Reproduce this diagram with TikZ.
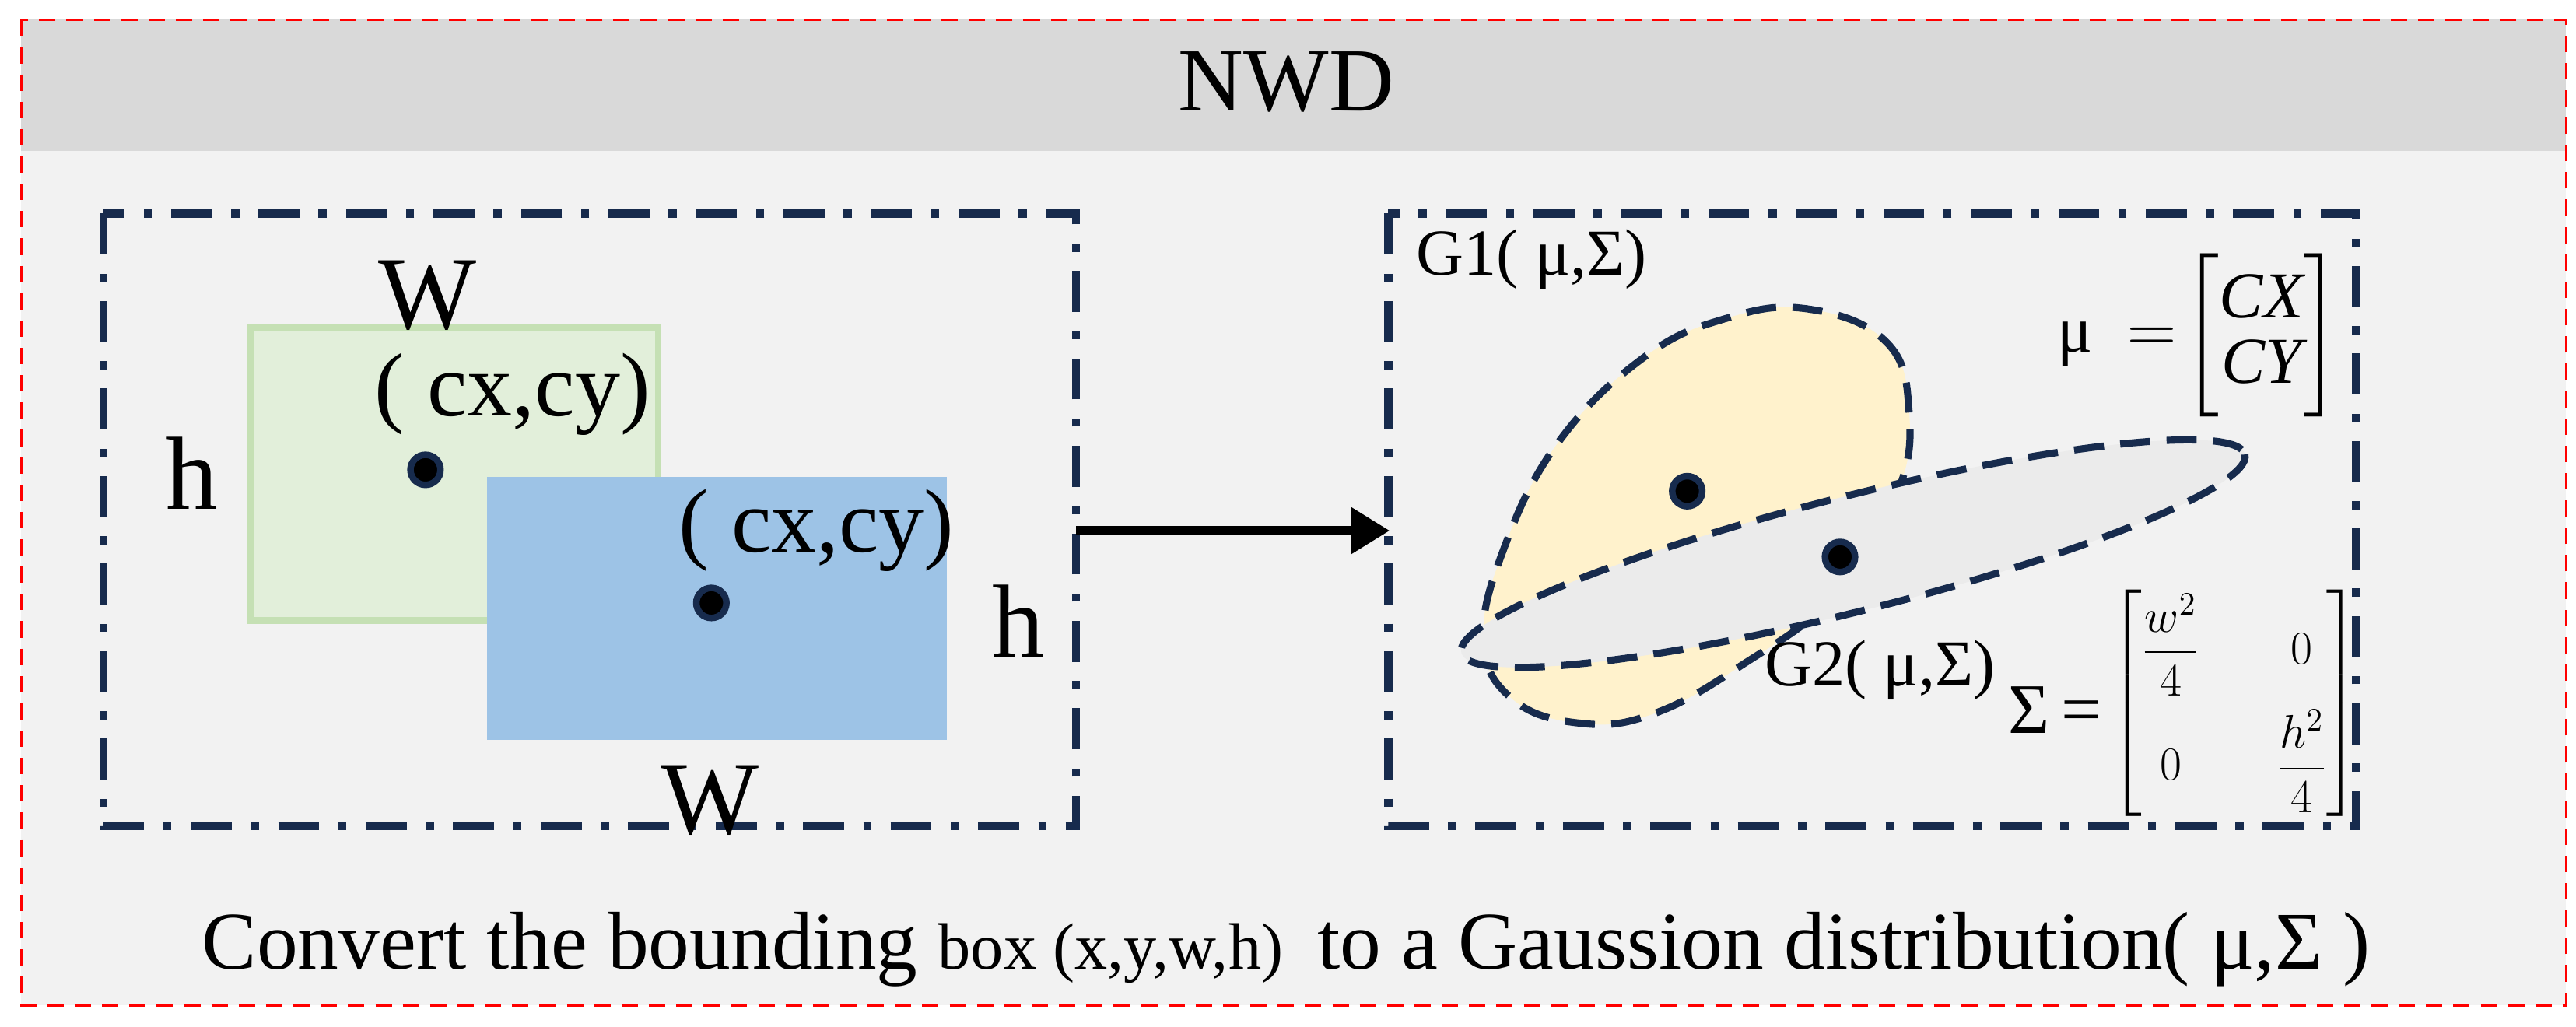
\documentclass[tikz,border=0pt]{standalone}
\usepackage{amsmath}
\usepackage{fontspec}
\setmainfont{Liberation Serif}
\usetikzlibrary{arrows.meta}
\definecolor{navy}{HTML}{172B4D}
\definecolor{hdr}{HTML}{D9D9D9}
\definecolor{pan}{HTML}{F2F2F2}
\definecolor{gfill}{HTML}{E2EFDA}
\definecolor{gline}{HTML}{C5E0B4}
\definecolor{bfill}{HTML}{9DC3E6}
\definecolor{yfill}{HTML}{FFF2CC}
\definecolor{efill}{HTML}{EBEBEB}
\tikzset{
  dd/.style={navy,line width=3pt,dash pattern=on 15pt off 7pt on 3pt off 7pt},
  gauss/.style={navy,line width=2.6pt,dash pattern=on 11pt off 6pt},
  dot/.style={circle,fill=black,draw=navy,line width=2.4pt,minimum size=11pt,inner sep=0pt},
  txt/.style={inner sep=0pt,font=\fontsize{33}{36}\selectfont},
  big/.style={inner sep=0pt,font=\fontsize{38}{42}\selectfont},
  sm/.style={inner sep=0pt,font=\fontsize{24}{28}\selectfont},
}
\begin{document}
\begin{tikzpicture}[x=0.021116cm,y=-0.021116cm]
\useasboundingbox (0,0) rectangle (1568,625);
\fill[white] (0,0) rectangle (1568,625);
\fill[pan] (13,12) rectangle (1562,612);
\fill[hdr] (13,12) rectangle (1562,92);
\draw[red,line width=1pt,dash pattern=on 6pt off 4pt] (13,12) rectangle (1562,612);
\node[txt] (title) at (783,50) {NWD};
% left panel
\draw[dd] (63,130) rectangle (655,503);
\coordinate (lr) at (655,323);
\node[draw=gline,fill=gfill,line width=2.5pt,inner sep=0pt,anchor=north west,minimum width=5.25cm,minimum height=3.77cm] (g) at (150,197) {};
\node[fill=bfill,inner sep=0pt,anchor=north west,minimum width=5.91cm,minimum height=3.38cm] (b) at (296,290) {};
\node[dot] (d1) at (259,286) {};
\node[dot] (d2) at (433,367) {};
\node[big] (w1) at (260,180) {W};
\node[big] (h1) at (117,288) {h};
\node[txt] (c1) at (312,240) {( cx,cy)};
\node[txt] (c2) at (497,323) {( cx,cy)};
\node[big] (h2) at (620,378) {h};
\node[big] (w2) at (432,487) {W};
% arrow
\coordinate (rl) at (846,323);
\draw[line width=3.6pt,-{Triangle[length=14pt,width=16pt]}] (lr) -- (rl);
% right panel
\draw[dd] (845,130) rectangle (1434,503);
\draw[gauss,fill=yfill] plot[smooth cycle,tension=0.7] coordinates {(1100,188) (1148,208) (1162,250) (1155,300) (1120,360) (1060,405) (1005,435) (960,440) (920,425) (903,390) (915,335) (948,270) (1000,218) (1050,194)};
\draw[gauss,fill=efill] (1128,337) ellipse[x radius=246,y radius=35,rotate=14.2];
\node[dot] (m1) at (1027,299) {};
\node[dot] (m2) at (1120,339) {};
\node[sm,anchor=west] (G1) at (862,158) {G1( μ,Σ)};
\node[sm,anchor=west] (mu) at (1252,204) {μ \;$=\!\left[\begin{matrix}\mathit{CX}\\[-4pt]\mathit{CY}\end{matrix}\right]$};
\node[sm,anchor=west] (G2) at (1074,408) {G2( μ,Σ)};
\node[sm,anchor=west,font=\fontsize{26}{30}\selectfont] (Sg) at (1222,432) {Σ\,=};
\node[inner sep=0pt,anchor=west,font=\fontsize{18}{21}\selectfont] (S) at (1284,428) {$\left[\renewcommand{\arraystretch}{1.1}\begin{matrix}\dfrac{w^2}{4} & \quad 0\\[10pt] 0 & \quad\dfrac{h^2}{4}\end{matrix}\right]$};
% caption
\node[txt,font=\fontsize{30}{34}\selectfont] (cap) at (783,578) {Convert the bounding {\fontsize{24}{28}\selectfont box (x,y,w,h)}\, to a Gaussion distribution( μ,Σ )};
\end{tikzpicture}
\end{document}
